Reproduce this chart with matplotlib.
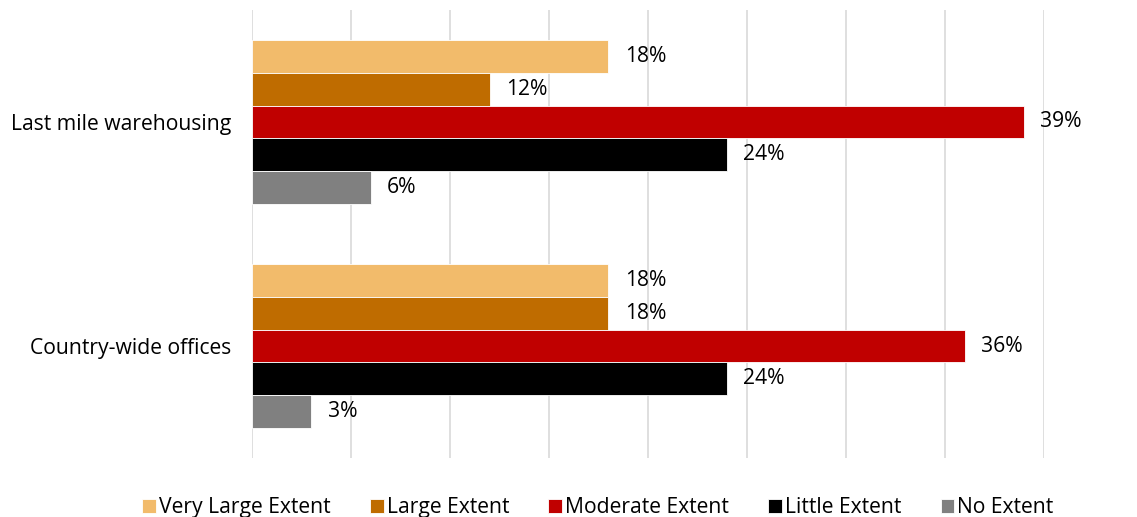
import matplotlib.pyplot as plt
import numpy as np

plt.rcParams['font.family'] = ['Open Sans', 'DejaVu Sans']

categories = ["Last mile warehousing", "Country-wide offices"]
series = ["Very Large Extent", "Large Extent", "Moderate Extent", "Little Extent", "No Extent"]
values = {
    "Very Large Extent": [18, 18],
    "Large Extent": [12, 18],
    "Moderate Extent": [39, 36],
    "Little Extent": [24, 24],
    "No Extent": [6, 3],
}
colors = ["#f2bb6b", "#bf6c00", "#c00000", "#000000", "#808080"]

fig = plt.figure(figsize=(11.37, 5.17), dpi=100)
ax = fig.add_axes([0.2216, 0.1141, 0.6966, 0.8666])

y = np.arange(len(categories))
h = 0.147
fs = 15.2
for i, s in enumerate(series):
    pos = y + (i - 2) * h
    vals = np.array(values[s]) / 100
    ax.barh(pos, vals, height=h, color=colors[i], edgecolor="white", linewidth=0.6,
            label=s, zorder=3)
    for p, v in zip(pos, values[s]):
        ax.text(v / 100 + 0.0082, p, f"{v}%", va="center", ha="left", fontsize=fs)

ax.set_xlim(0, 0.4)
ax.set_ylim(1.5, -0.5)
ax.set_xticks(np.arange(0, 0.41, 0.05))
ax.set_xticklabels([])
ax.tick_params(axis="x", length=0)
ax.tick_params(axis="y", length=0, pad=15, labelsize=fs)
ax.set_yticks(y)
ax.set_yticklabels(categories)
ax.grid(axis="x", color="#d9d9d9", linewidth=1.2, zorder=0)
for sp in ax.spines.values():
    sp.set_visible(False)

fig.legend(loc="center", bbox_to_anchor=(0.526, 0.018), ncol=5, frameon=False,
           fontsize=fs, handlelength=0.65, handleheight=0.65, handletextpad=0.15,
           columnspacing=1.85)

fig.savefig("out.png", dpi=100)
